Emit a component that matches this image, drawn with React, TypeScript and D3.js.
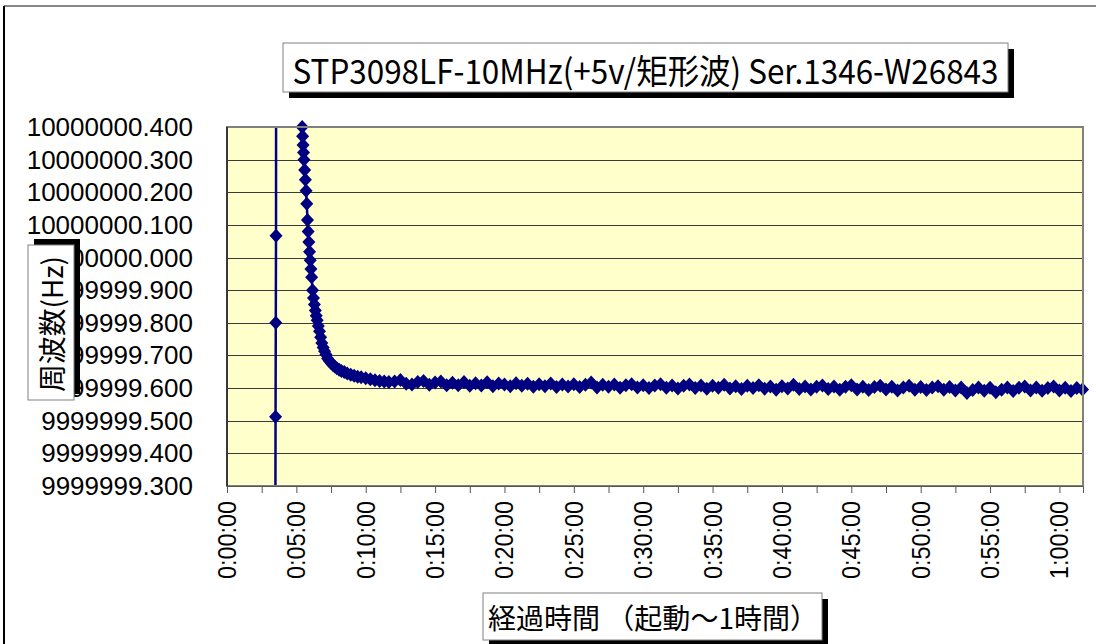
import { useEffect, useRef } from "react";
import * as d3 from "d3";

const chartTitle = "STP3098LF-10MHz(+5v/矩形波) Ser.1346-W26843";
const yTitle = "周波数(Hz)";
const xTitle = "経過時間 （起動～1時間）";

// elapsed seconds since power on / measured frequency in Hz
// startup glitch near 0:03:30, then readings above the axis range (clipped)
const startupSec = [209, 210, 211, 212, 213, 240, 270, 300, 320];
const startupHz = [
  9999999.1, 9999999.512, 9999999.8, 10000000.067, 10000001.8,
  10000001.5, 10000001.1, 10000000.75, 10000000.46,
];

// warm-up drift
const warmupSec = [
  325, 327, 329, 331, 333, 336, 339, 342, 345, 348,
  351, 354, 357, 360, 363, 366, 370, 374, 378, 382,
  386, 390, 395, 400, 405, 410, 416, 422, 428, 435,
  442, 450, 458, 466, 475, 485, 495, 507, 520, 535,
  550, 565, 580, 600, 620, 640, 660, 680, 700,
];
const warmupHz = [
  10000000.4, 10000000.372, 10000000.345, 10000000.322, 10000000.3,
  10000000.268, 10000000.238, 10000000.205, 10000000.165, 10000000.115,
  10000000.08, 10000000.048, 10000000.018, 9999999.992, 9999999.965,
  9999999.94, 9999999.9, 9999999.876, 9999999.856, 9999999.838,
  9999999.822, 9999999.808, 9999999.79, 9999999.774, 9999999.756,
  9999999.738, 9999999.724, 9999999.713, 9999999.703, 9999999.691,
  9999999.684, 9999999.677, 9999999.671, 9999999.666, 9999999.661,
  9999999.656, 9999999.652, 9999999.649, 9999999.645, 9999999.641,
  9999999.638, 9999999.635, 9999999.633, 9999999.63, 9999999.627,
  9999999.624, 9999999.622, 9999999.62, 9999999.619,
];

// settled
const stableSec = [
  725, 750, 775, 800, 825, 850, 875, 900, 925, 950,
  975, 1000, 1025, 1050, 1075, 1100, 1125, 1150, 1175, 1200,
  1225, 1250, 1275, 1300, 1325, 1350, 1375, 1400, 1425, 1450,
  1475, 1500, 1525, 1550, 1575, 1600, 1625, 1650, 1675, 1700,
  1725, 1750, 1775, 1800, 1825, 1850, 1875, 1900, 1925, 1950,
  1975, 2000, 2025, 2050, 2075, 2100, 2125, 2150, 2175, 2200,
  2225, 2250, 2275, 2300, 2325, 2350, 2375, 2400, 2425, 2450,
  2475, 2500, 2525, 2550, 2575, 2600, 2625, 2650, 2675, 2700,
  2725, 2750, 2775, 2800, 2825, 2850, 2875, 2900, 2925, 2950,
  2975, 3000, 3025, 3050, 3075, 3100, 3125, 3150, 3175, 3200,
  3225, 3250, 3275, 3300, 3325, 3350, 3375, 3400, 3425, 3450,
  3475, 3500, 3525, 3550, 3575, 3600, 3625, 3650, 3675, 3700,
];
const stableHz = [
  9999999.62, 9999999.625, 9999999.613, 9999999.611, 9999999.619, 9999999.622, 9999999.61, 9999999.617, 9999999.62, 9999999.609,
  9999999.616, 9999999.609, 9999999.619, 9999999.607, 9999999.615, 9999999.608, 9999999.618, 9999999.606, 9999999.614, 9999999.611,
  9999999.606, 9999999.615, 9999999.607, 9999999.613, 9999999.604, 9999999.612, 9999999.606, 9999999.614, 9999999.603, 9999999.611,
  9999999.605, 9999999.612, 9999999.603, 9999999.61, 9999999.617, 9999999.602, 9999999.61, 9999999.604, 9999999.611, 9999999.601,
  9999999.609, 9999999.612, 9999999.602, 9999999.609, 9999999.6, 9999999.608, 9999999.612, 9999999.601, 9999999.608, 9999999.599,
  9999999.607, 9999999.611, 9999999.6, 9999999.608, 9999999.598, 9999999.607, 9999999.601, 9999999.61, 9999999.599, 9999999.606,
  9999999.597, 9999999.607, 9999999.6, 9999999.609, 9999999.598, 9999999.605, 9999999.595, 9999999.606, 9999999.599, 9999999.61,
  9999999.597, 9999999.605, 9999999.596, 9999999.604, 9999999.608, 9999999.597, 9999999.605, 9999999.595, 9999999.604, 9999999.609,
  9999999.596, 9999999.604, 9999999.594, 9999999.603, 9999999.607, 9999999.596, 9999999.604, 9999999.593, 9999999.602, 9999999.607,
  9999999.595, 9999999.603, 9999999.594, 9999999.602, 9999999.606, 9999999.595, 9999999.603, 9999999.593, 9999999.602, 9999999.585,
  9999999.594, 9999999.602, 9999999.592, 9999999.601, 9999999.587, 9999999.595, 9999999.602, 9999999.591, 9999999.601, 9999999.605,
  9999999.593, 9999999.602, 9999999.592, 9999999.6, 9999999.605, 9999999.593, 9999999.601, 9999999.591, 9999999.6, 9999999.596,
];

const yTicks = [
  9999999.3, 9999999.4, 9999999.5, 9999999.6, 9999999.7, 9999999.8,
  9999999.9, 10000000.0, 10000000.1, 10000000.2, 10000000.3, 10000000.4,
];
const xLabelSec = [0, 300, 600, 900, 1200, 1500, 1800, 2100, 2400, 2700, 3000, 3300, 3600];

const W = 1096;
const H = 644;
const plot = { left: 227, top: 127, right: 1083, bottom: 486 };
const latin = "'Liberation Sans', Arial, sans-serif";
const cjk = "'Noto Sans CJK JP', sans-serif";

const fmtTime = (s: number) => {
  const h = Math.floor(s / 3600);
  const m = Math.floor((s % 3600) / 60);
  const sec = s % 60;
  return `${h}:${String(m).padStart(2, "0")}:${String(sec).padStart(2, "0")}`;
};

export default function App() {
  const svgRef = useRef<SVGSVGElement>(null);

  useEffect(() => {
    const svg = d3.select(svgRef.current);
    svg.selectAll("*").remove();

    const x = d3.scaleLinear().domain([0, 3702]).range([plot.left, plot.right]);
    const y = d3.scaleLinear().domain([9999999.3, 10000000.4]).range([plot.bottom, plot.top]);

    const data = [
      ...startupSec.map((t, i) => ({ t, v: startupHz[i] })),
      ...warmupSec.map((t, i) => ({ t, v: warmupHz[i] })),
      ...stableSec.map((t, i) => ({ t, v: stableHz[i] })),
    ];

    // outer chart frame (only top/left visible)
    svg.append("line").attr("x1", 4).attr("y1", 6).attr("x2", W).attr("y2", 6)
      .attr("stroke", "#888").attr("stroke-width", 2);
    svg.append("line").attr("x1", 4).attr("y1", 6).attr("x2", 4).attr("y2", H)
      .attr("stroke", "#000").attr("stroke-width", 2);

    // plot background
    svg.append("rect")
      .attr("x", plot.left).attr("y", plot.top)
      .attr("width", plot.right - plot.left).attr("height", plot.bottom - plot.top)
      .attr("fill", "#ffffcc");

    // grid
    svg.append("g").selectAll("line").data(yTicks).join("line")
      .attr("x1", plot.left).attr("x2", plot.right)
      .attr("y1", (d) => Math.round(y(d)) + 0.5).attr("y2", (d) => Math.round(y(d)) + 0.5)
      .attr("stroke", "#3a3a3a").attr("stroke-width", 1);

    svg.append("clipPath").attr("id", "plotclip").append("rect")
      .attr("x", plot.left).attr("y", plot.top)
      .attr("width", plot.right - plot.left).attr("height", plot.bottom - plot.top);

    const line = d3.line<{ t: number; v: number }>()
      .x((d) => x(d.t))
      .y((d) => y(d.v));

    svg.append("path")
      .datum(data)
      .attr("clip-path", "url(#plotclip)")
      .attr("d", line)
      .attr("fill", "none")
      .attr("stroke", "#000080")
      .attr("stroke-width", 2.5);

    const inRange = data.filter((d) => d.v >= 9999999.3 - 1e-6 && d.v <= 10000000.4 + 1e-6);
    svg.append("g").selectAll("path").data(inRange).join("path")
      .attr("transform", (d) => `translate(${x(d.t)},${y(d.v)})`)
      .attr("d", "M0,-7L6.5,0L0,7L-6.5,0Z")
      .attr("fill", "#000080");

    // plot frame
    svg.append("rect")
      .attr("x", plot.left).attr("y", plot.top)
      .attr("width", plot.right - plot.left).attr("height", plot.bottom - plot.top)
      .attr("fill", "none").attr("stroke", "#808080").attr("stroke-width", 2);
    svg.append("line").attr("x1", plot.left).attr("x2", plot.left)
      .attr("y1", plot.top).attr("y2", plot.bottom)
      .attr("stroke", "#222").attr("stroke-width", 1.5);

    // x axis ticks
    const xAxis = d3.axisBottom(x)
      .tickValues(d3.range(0, 3701, 150))
      .tickSize(7)
      .tickFormat(() => "");
    const gx = svg.append("g").attr("transform", `translate(0,${plot.bottom})`).call(xAxis);
    gx.select(".domain").attr("stroke", "#555");
    gx.selectAll(".tick line").attr("stroke", "#555");

    svg.append("g").selectAll("text").data(xLabelSec).join("text")
      .attr("transform", (d) => `translate(${x(d)},501) rotate(-90)`)
      .attr("text-anchor", "end")
      .attr("dominant-baseline", "central")
      .attr("font-family", latin)
      .attr("font-size", 26)
      .attr("textLength", 78)
      .attr("lengthAdjust", "spacingAndGlyphs")
      .attr("fill", "#000")
      .text((d) => fmtTime(d));

    // y labels
    svg.append("g").selectAll("text").data(yTicks).join("text")
      .attr("x", 193)
      .attr("y", (d) => y(d))
      .attr("text-anchor", "end")
      .attr("dominant-baseline", "central")
      .attr("font-family", latin)
      .attr("font-size", 26)
      .attr("fill", "#000")
      .text((d) => d3.format(".3f")(d));

    // title box
    svg.append("rect").attr("x", 289).attr("y", 49).attr("width", 725).attr("height", 49).attr("fill", "#000");
    svg.append("rect").attr("x", 283).attr("y", 43).attr("width", 725).attr("height", 49)
      .attr("fill", "#fff").attr("stroke", "#808080").attr("stroke-width", 1);
    svg.append("text")
      .attr("x", 645.5).attr("y", 69)
      .attr("text-anchor", "middle").attr("dominant-baseline", "central")
      .attr("font-family", cjk).attr("font-size", 34)
      .attr("textLength", 706).attr("lengthAdjust", "spacingAndGlyphs")
      .text(chartTitle);

    // y title box
    svg.append("rect").attr("x", 34).attr("y", 239).attr("width", 46).attr("height", 155).attr("fill", "#000");
    svg.append("rect").attr("x", 28).attr("y", 245).attr("width", 46).attr("height", 155)
      .attr("fill", "#fff").attr("stroke", "#808080").attr("stroke-width", 1);
    svg.append("text")
      .attr("transform", "translate(51,324) rotate(-90)")
      .attr("text-anchor", "middle").attr("dominant-baseline", "central")
      .attr("font-family", cjk).attr("font-size", 28)
      .attr("textLength", 136).attr("lengthAdjust", "spacingAndGlyphs")
      .text(yTitle);

    // x title box
    svg.append("rect").attr("x", 489).attr("y", 599).attr("width", 339).attr("height", 47).attr("fill", "#000");
    svg.append("rect").attr("x", 483).attr("y", 593).attr("width", 339).attr("height", 47)
      .attr("fill", "#fff").attr("stroke", "#808080").attr("stroke-width", 1);
    svg.append("text")
      .attr("x", 653).attr("y", 617)
      .attr("text-anchor", "middle").attr("dominant-baseline", "central")
      .attr("font-family", cjk).attr("font-size", 28)
      .attr("textLength", 330).attr("lengthAdjust", "spacingAndGlyphs")
      .text(xTitle);
  }, []);

  return (
    <svg
      ref={svgRef}
      width={W}
      height={H}
      style={{ position: "absolute", left: 0, top: 0, background: "#fff" }}
    />
  );
}
